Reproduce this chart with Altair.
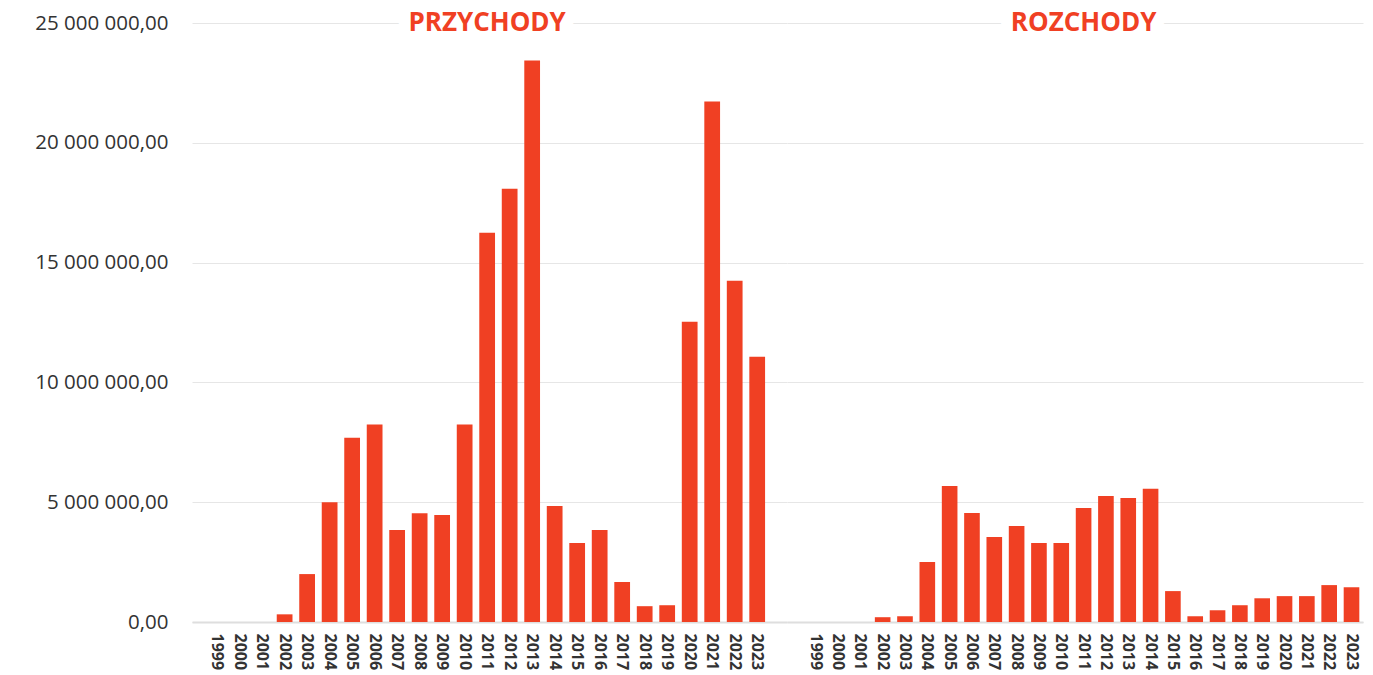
import altair as alt
import pandas as pd

years = ["1999", "2000", "2001", "2002", "2003", "2004", "2005", "2006", "2007",
         "2008", "2009", "2010", "2011", "2012", "2013", "2014", "2015", "2016",
         "2017", "2018", "2019", "2020", "2021", "2022", "2023"]

przychody = [0, 0, 0, 320000, 2000000, 5000000, 7690000, 8240000, 3840000,
             4540000, 4470000, 8240000, 16250000, 18080000, 23430000, 4840000,
             3300000, 3840000, 1670000, 660000, 700000, 12530000, 21720000,
             14240000, 11070000]

rozchody = [0, 0, 0, 200000, 240000, 2500000, 5680000, 4550000, 3550000,
            4010000, 3300000, 3300000, 4760000, 5260000, 5180000, 5560000,
            1290000, 240000, 490000, 700000, 990000, 1080000, 1080000,
            1540000, 1450000]

panel_titles = ["PRZYCHODY", "ROZCHODY"]
y_ticks = [0, 5000000, 10000000, 15000000, 20000000, 25000000]

RED = "#f04023"
FONT = "Open Sans"

y_label_expr = ("replace(replace(format(datum.value, ',.2f'), regexp(',', 'g'), ' '), '.', ',')")


def panel(values, title, width, pad_outer, align, show_labels):
    df = pd.DataFrame({"year": years, "value": values})
    xscale = alt.Scale(domain=years, paddingInner=0.3, paddingOuter=pad_outer, align=align)
    yscale = alt.Scale(domain=[0, 25000000], nice=False)
    if show_labels:
        yaxis = alt.Axis(values=y_ticks, title=None, labelExpr=y_label_expr,
                         labelFontSize=20.5, labelColor="#333333", labelFont=FONT,
                         labelPadding=24, ticks=False, domain=False,
                         gridColor="#e6e6e6", gridWidth=1)
    else:
        yaxis = alt.Axis(values=y_ticks, title=None, labels=False, ticks=False,
                         domain=False, gridColor="#e6e6e6", gridWidth=1)
    xaxis = alt.Axis(title=None, labelAngle=90, labelFontSize=16, labelFontWeight="bold",
                     labelColor="#333333", labelFont=FONT, ticks=False,
                     domainColor="#dedede", domainWidth=2, labelPadding=11, grid=False)
    bars = alt.Chart(df).mark_bar(color=RED).encode(
        x=alt.X("year:N", scale=xscale, axis=xaxis, sort=years),
        y=alt.Y("value:Q", scale=yscale, axis=yaxis),
    )
    tdf = pd.DataFrame({"year": ["2011"], "value": [25000000], "t": [title]})
    halo = alt.Chart(tdf).mark_text(
        font=FONT, fontSize=26, fontWeight="bold", color="white",
        stroke="white", strokeWidth=24, strokeJoin="round",
        align="center", baseline="middle",
    ).encode(x=alt.X("year:N", sort=years), y="value:Q", text="t:N")
    label = alt.Chart(tdf).mark_text(
        font=FONT, fontSize=26, fontWeight="bold", color=RED,
        align="center", baseline="middle",
    ).encode(x=alt.X("year:N", sort=years), y="value:Q", text="t:N")
    return alt.layer(bars, halo, label).properties(width=width, height=599)


left = panel(przychody, panel_titles[0], 595, 0.87, 0.44, True)
right = panel(rozchody, panel_titles[1], 576, 0.55, 0.85, False)

chart = alt.hconcat(left, right, spacing=0).resolve_scale(
    x="independent", y="independent"
).properties(
    padding={"left": 26, "top": 2, "right": 2, "bottom": 0}
).configure_view(stroke=None)

chart.save("out.html", embed_options={"renderer": "svg", "actions": False})
